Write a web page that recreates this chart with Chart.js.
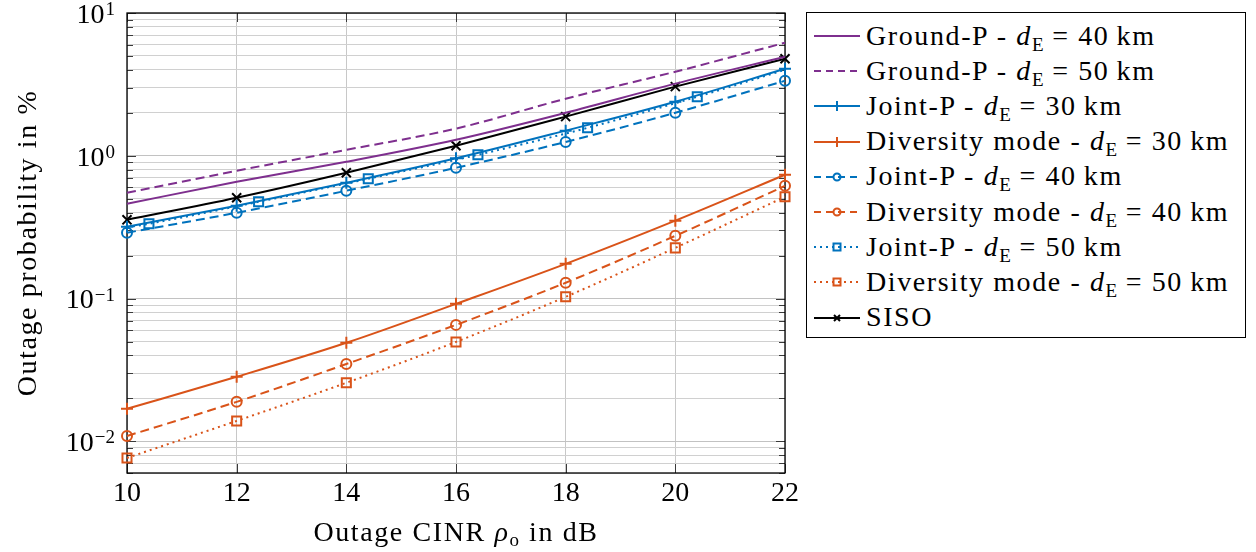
<!DOCTYPE html>
<html>
<head>
<meta charset="utf-8">
<script src="https://cdn.jsdelivr.net/npm/chart.js@4.4.1/dist/chart.umd.min.js"></script>
<style>
  html, body { margin: 0; padding: 0; background: #fff; }
  #wrap { position: relative; width: 1256px; height: 552px; }
  #legend {
    position: absolute; left: 806px; top: 12px; width: 438px; height: 324px;
    border: 1.3px solid #000; background: #fff;
    font-family: 'Liberation Serif', 'Times New Roman', 'DejaVu Serif', serif; font-size: 28px; letter-spacing: 1.6px; color: #000;
  }
  .row { position: absolute; left: 0; height: 35px; display: flex; align-items: center; white-space: nowrap; }
  .row svg { margin-left: 7px; margin-right: 6px; flex: none; }
  .row i { font-style: italic; }
  .row sub { font-size: 19px; vertical-align: -6px; line-height: 0; letter-spacing: 0; }
</style>
</head>
<body>
<div id="wrap">
  <canvas id="chart" width="1256" height="552"></canvas>
  <div id="legend"></div>
</div>
<script>
// x positions (dB) and outage probability values in %
const xValues = [10, 12, 14, 16, 18, 20, 22];
const groundP40 = [0.461, 0.658, 0.908, 1.295, 2.0, 3.2, 4.94];
const groundP50 = [0.55, 0.785, 1.10, 1.55, 2.51, 3.88, 6.19];
const jointP30 = [0.318, 0.447, 0.647, 0.96, 1.50, 2.39, 4.07];
const diversity30 = [0.0169, 0.0283, 0.049, 0.0918, 0.175, 0.351, 0.736];
const jointP40 = [0.289, 0.399, 0.569, 0.824, 1.25, 2.0, 3.35];
const diversity40 = [0.0109, 0.0189, 0.0348, 0.0654, 0.129, 0.275, 0.616];
const jointP50X = [10, 10.4, 12.4, 14.4, 16.4, 18.4, 20.4, 22];
const jointP50 = [0.315, 0.334, 0.476, 0.69, 1.016, 1.57, 2.59, 4.0];
const diversity50 = [0.00765, 0.0139, 0.0257, 0.0497, 0.1028, 0.2265, 0.516];
const siso = [0.356, 0.508, 0.76, 1.175, 1.88, 3.05, 4.78];

const xTicks = [10, 12, 14, 16, 18, 20, 22];
const yDecades = [0.01, 0.1, 1, 10];
const yDecadeExp = ['\u22122', '\u22121', '0', '1'];
const yMinorSteps = [2, 3, 4, 5, 6, 7, 8, 9];
const yMin = 0.006, yMax = 10;

const PURPLE = '#7E2F8E', BLUE = '#0072BD', ORANGE = '#D95319', BLACK = '#000000';
const FONT = "'Liberation Serif', 'Times New Roman', 'DejaVu Serif', serif";

const pts = (xs, ys) => ys.map((v, i) => ({ x: xs[i], y: v }));

function series(label, xs, ys, color, dash, marker, radius) {
  return {
    label, data: pts(xs, ys),
    borderColor: color, backgroundColor: 'rgba(0,0,0,0)',
    borderWidth: 2, borderDash: dash,
    pointStyle: marker || 'circle', pointRadius: marker ? radius : 0,
    pointBorderColor: color, pointBackgroundColor: 'rgba(0,0,0,0)', pointBorderWidth: 2,
    cubicInterpolationMode: 'monotone', clip: false,
  };
}

const DASH = [9, 5], DOT = [2, 4];
const datasets = [
  series('Ground-P 40', xValues, groundP40, PURPLE, [], null, 0),
  series('Ground-P 50', xValues, groundP50, PURPLE, DASH, null, 0),
  series('Joint-P 30', xValues, jointP30, BLUE, [], 'cross', 6),
  series('Diversity 30', xValues, diversity30, ORANGE, [], 'cross', 6),
  series('Joint-P 40', xValues, jointP40, BLUE, DASH, 'circle', 5),
  series('Diversity 40', xValues, diversity40, ORANGE, DASH, 'circle', 5),
  series('Joint-P 50', jointP50X, jointP50, BLUE, DOT, 'rect', 6.4),
  series('Diversity 50', xValues, diversity50, ORANGE, DOT, 'rect', 6.4),
  series('SISO', xValues, siso, BLACK, [], 'crossRot', 6.4),
];
// Joint-P 50 markers only on the shifted points
datasets[6].pointRadius = jointP50X.map((x, i) => (i === 0 || i === jointP50X.length - 1) ? 0 : 6.4);

const isDecade = v => yDecades.some(d => Math.abs(v - d) < d * 1e-6);

const axisDecor = {
  id: 'axisDecor',
  beforeDatasetsDraw(chart) {
    const { ctx, chartArea: a, scales: { x, y } } = chart;
    ctx.save();
    ctx.strokeStyle = '#3a3a3a';
    ctx.lineWidth = 1;
    ctx.beginPath();
    x.ticks.forEach(t => {
      const px = Math.round(x.getPixelForValue(t.value)) + 0.5;
      ctx.moveTo(px, a.bottom); ctx.lineTo(px, a.bottom - 9);
      ctx.moveTo(px, a.top); ctx.lineTo(px, a.top + 9);
    });
    y.ticks.forEach(t => {
      const py = Math.round(y.getPixelForValue(t.value)) + 0.5;
      const len = isDecade(t.value) ? 9 : 6;
      ctx.moveTo(a.left, py); ctx.lineTo(a.left + len, py);
      ctx.moveTo(a.right, py); ctx.lineTo(a.right - len, py);
    });
    ctx.stroke();
    ctx.strokeStyle = '#000';
    ctx.lineWidth = 1.3;
    ctx.strokeRect(a.left, a.top, a.right - a.left, a.bottom - a.top);
    ctx.restore();
  },
  afterDraw(chart) {
    const { ctx, chartArea: a, scales: { y } } = chart;
    ctx.save();
    ctx.fillStyle = '#000';
    // y tick labels 10^n
    yDecades.forEach((d, i) => {
      const py = y.getPixelForValue(d);
      ctx.font = '19px ' + FONT;
      ctx.textAlign = 'right';
      ctx.textBaseline = 'middle';
      const ex = yDecadeExp[i];
      const exW = ctx.measureText(ex).width;
      const right = a.left - 12;
      ctx.fillText(ex, right, py - 3);
      ctx.font = '28px ' + FONT;
      ctx.fillText('10', right - exW - 1, py + 2.5);
    });
    // x axis title with subscript
    ctx.letterSpacing = '1.6px';
    ctx.textAlign = 'left';
    ctx.textBaseline = 'alphabetic';
    const parts = [
      { t: 'Outage CINR ', f: '28px ' + FONT, dy: 0 },
      { t: '\u03C1', f: 'italic 28px ' + FONT, dy: 0 },
      { t: 'o', f: '19px ' + FONT, dy: 5 },
      { t: ' in dB', f: '28px ' + FONT, dy: 0 },
    ];
    let total = 0;
    parts.forEach(p => { ctx.font = p.f; p.w = ctx.measureText(p.t).width; total += p.w; });
    let cx = (a.left + a.right) / 2 - total / 2;
    parts.forEach(p => { ctx.font = p.f; ctx.fillText(p.t, cx, 541 + p.dy); cx += p.w; });
    // y axis title
    ctx.translate(36, (a.top + a.bottom) / 2);
    ctx.rotate(-Math.PI / 2);
    ctx.font = '28px ' + FONT;
    ctx.textAlign = 'center';
    ctx.fillText('Outage probability in %', 0, 0);
    ctx.restore();
  }
};

new Chart(document.getElementById('chart'), {
  type: 'line',
  data: { datasets },
  options: {
    responsive: false,
    animation: false,
    devicePixelRatio: 1,
    layout: { padding: { left: 0, top: 13, right: 471, bottom: 0 } },
    plugins: { legend: { display: false }, tooltip: { enabled: false } },
    scales: {
      x: {
        type: 'linear', min: 10, max: 22,
        afterBuildTicks: s => { s.ticks = xTicks.map(v => ({ value: v })); },
        afterFit: s => { s.height = 79; },
        border: { display: false },
        grid: { color: '#c8c8c8', lineWidth: 1, drawTicks: false },
        ticks: { color: '#000', padding: 4, font: { family: FONT, size: 28 } },
      },
      y: {
        type: 'logarithmic', min: yMin, max: yMax,
        afterBuildTicks: s => {
          const ticks = [];
          [0.001, 0.01, 0.1, 1].forEach(d => {
            [1].concat(yMinorSteps).forEach(m => {
              const v = +(m * d).toPrecision(6);
              if (v >= yMin - 1e-9 && v <= yMax + 1e-9) ticks.push({ value: v });
            });
          });
          ticks.push({ value: 10 });
          s.ticks = ticks;
        },
        afterFit: s => { s.width = 127; },
        border: { display: false },
        grid: { color: ctx => isDecade(ctx.tick.value) ? '#c2c2c2' : '#d0d0d0', lineWidth: 1, drawTicks: false },
        ticks: { display: false },
      },
    },
  },
  plugins: [axisDecor],
});

// HTML legend (needs italic d and subscript E)
const legendItems = [
  { name: 'Ground-P', d: '40', color: PURPLE, dash: '', marker: null },
  { name: 'Ground-P', d: '50', color: PURPLE, dash: '7 5', marker: null },
  { name: 'Joint-P', d: '30', color: BLUE, dash: '', marker: 'plus' },
  { name: 'Diversity mode', d: '30', color: ORANGE, dash: '', marker: 'plus' },
  { name: 'Joint-P', d: '40', color: BLUE, dash: '7 5', marker: 'circle' },
  { name: 'Diversity mode', d: '40', color: ORANGE, dash: '7 5', marker: 'circle' },
  { name: 'Joint-P', d: '50', color: BLUE, dash: '2 4', marker: 'square' },
  { name: 'Diversity mode', d: '50', color: ORANGE, dash: '2 4', marker: 'square' },
  { name: 'SISO', d: null, color: BLACK, dash: '', marker: 'cross' },
];

function sampleSvg(it) {
  const c = it.color;
  let m = '';
  if (it.marker === 'plus') m = `<path d="M23 13 V23 M18 18 H28" stroke="${c}" stroke-width="2"/>`;
  if (it.marker === 'circle') m = `<circle cx="23" cy="18" r="3.5" fill="none" stroke="${c}" stroke-width="2"/>`;
  if (it.marker === 'square') m = `<rect x="19.5" y="14.5" width="7" height="7" fill="none" stroke="${c}" stroke-width="2"/>`;
  if (it.marker === 'cross') m = `<path d="M20 15 L26 21 M26 15 L20 21" stroke="${c}" stroke-width="2"/>`;
  const dash = it.dash ? `stroke-dasharray="${it.dash}"` : '';
  return `<svg width="46" height="35" viewBox="0 0 46 35"><line x1="0" y1="18" x2="46" y2="18" stroke="${c}" stroke-width="2" ${dash}/>${m}</svg>`;
}

const legendEl = document.getElementById('legend');
legendItems.forEach((it, i) => {
  const row = document.createElement('div');
  row.className = 'row';
  row.style.top = (5 + i * 35.2) + 'px';
  const text = it.d ? `${it.name} - <i>d</i><sub>E</sub> = ${it.d}\u2009km` : it.name;
  row.innerHTML = sampleSvg(it) + `<span>${text}</span>`;
  legendEl.appendChild(row);
});
</script>
</body>
</html>
